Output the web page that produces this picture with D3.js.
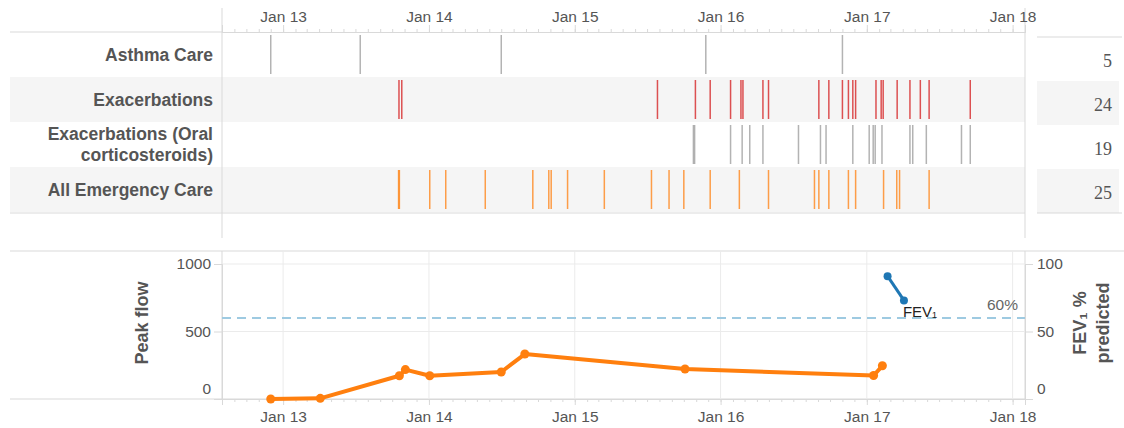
<!DOCTYPE html>
<html>
<head>
<meta charset="utf-8">
<title>patient timeline</title>
<script src="https://cdnjs.cloudflare.com/ajax/libs/d3/7.8.5/d3.min.js"></script>
<style>
body{margin:0;background:#fff;}
text{font-family:"Liberation Sans",Arial,sans-serif;}
</style>
</head>
<body>
<script>
// event rows
var rowLabels=[["Asthma Care"],["Exacerbations"],["Exacerbations (Oral","corticosteroids)"],["All Emergency Care"]];
var rowColors=["#9a9a9a","#d62728","#9a9a9a","#ff7f0e"];

var asthmaCare=["2012-12-01","2013-07-13","2014-07-01","2015-11-25","2016-11-01"];
var exacerbations=["2013-10-18","2013-10-25","2015-07-27","2015-10-30","2015-12-06",
	"2016-01-26","2016-02-21","2016-02-26","2016-04-16","2016-04-30","2016-09-03","2016-09-28",
	"2016-11-01","2016-11-16","2016-11-27","2016-12-04",
	"2017-01-24","2017-02-06","2017-02-11","2017-03-18","2017-04-19","2017-05-15","2017-06-06","2017-09-17"];
var oralSteroids=["2015-10-25","2015-10-28","2016-01-26","2016-02-24","2016-03-14","2016-04-16",
	"2016-07-14","2016-09-07","2016-09-21","2016-11-27","2017-01-07","2017-01-17","2017-01-22",
	"2017-02-08","2017-04-19","2017-04-26","2017-05-30","2017-08-26","2017-09-17"];
var emergencyCare=["2013-10-17","2013-10-19","2014-01-03","2014-02-12","2014-05-22","2014-09-18",
	"2014-10-28","2014-11-03","2014-12-14","2015-03-16","2015-07-12","2015-08-25","2015-10-01",
	"2015-12-06","2016-02-17","2016-04-30","2016-08-23","2016-09-03","2016-09-28","2016-11-16",
	"2016-12-04","2017-02-12","2017-03-17","2017-03-24","2017-06-06"];

// measurements
var peakDates=["2012-12-01","2013-04-04","2013-10-19","2013-11-03","2014-01-03","2014-07-01",
	"2014-08-29","2015-10-04","2017-01-18","2017-02-09"];
var peakValues=[0,5,172,218,172,200,333,222,174,246];
var fevDates=["2017-02-22","2017-04-04"];
var fevValues=[91,73];

var peakTicks=[0,500,1000],
	fevTicks=[0,50,100],
	peakThreshold=600,
	fevThreshold=60;

var W=1124,H=428,
	left=222,right=1025,
	rowTop=32,rowH=45,
	plotTop=251,plotBottom=399;
var parse=d3.timeParse("%Y-%m-%d");
var grey="#d9d9d9";

var svg=d3.select("body").append("svg")
	.attr("width",W).attr("height",H);

var x=d3.scaleTime()
	.domain([parse("2012-08-01"),parse("2018-02-01")])
	.range([left,right]);

var rows=d3.scaleBand().domain(d3.range(4)).range([rowTop,rowTop+4*rowH]);
var rows2=d3.scaleBand().domain(d3.range(4)).range([37,213]);
var events=[asthmaCare,exacerbations,oralSteroids,emergencyCare];

// row backgrounds
svg.selectAll(".band").data([1,3]).enter().append("rect")
	.attr("x",10).attr("width",right-10)
	.attr("y",function(d){return rows(d);}).attr("height",rows.bandwidth())
	.attr("fill","#f5f5f5");
svg.selectAll(".band2").data([1,3]).enter().append("rect")
	.attr("x",1037).attr("width",82)
	.attr("y",function(d){return rows2(d);}).attr("height",rows2.bandwidth())
	.attr("fill","#f5f5f5");

// frame lines
var frame=[
	[10,rowTop,left,rowTop],[left,8,left,238],[right,8,right,238],[10,213,right,213],
	[1037,37,1122,37],[1037,213,1122,213],
	[10,plotTop,W,plotTop],[left,plotTop,left,plotBottom],[right,plotTop,right,plotBottom],[10,plotBottom,right,plotBottom]
];
svg.selectAll(".frame").data(frame).enter().append("line")
	.attr("x1",function(d){return d[0];}).attr("y1",function(d){return d[1];})
	.attr("x2",function(d){return d[2];}).attr("y2",function(d){return d[3];})
	.attr("stroke",grey).attr("stroke-width",1);

// top axis
var top1=svg.append("g").attr("transform","translate(0,"+rowTop+")")
	.call(d3.axisTop(x).ticks(d3.timeMonth.every(1)).tickSize(3).tickFormat(""));
var top2=svg.append("g").attr("transform","translate(0,"+rowTop+")")
	.call(d3.axisTop(x).ticks(d3.timeYear.every(1)).tickSize(7).tickPadding(3).tickFormat(d3.timeFormat("%b %y")));
[top1,top2].forEach(function(g){
	g.select(".domain").attr("stroke",grey);
	g.selectAll(".tick line").attr("stroke",grey);
	g.selectAll("text").attr("fill","#555").style("font-size","15.5px");
});

// row labels
rowLabels.forEach(function(lines,i){
	var t=svg.append("text")
		.attr("x",213)
		.attr("y",rows(i)+rowH/2-(lines.length-1)*10.5)
		.attr("text-anchor","end").attr("dy","0.35em")
		.attr("fill","#555").style("font-size","17.5px").style("font-weight","bold");
	lines.forEach(function(s,j){
		t.append("tspan").attr("x",213).attr("dy",j==0?"0.35em":"21px").text(s);
	});
});

// event ticks
events.forEach(function(list,i){
	svg.append("g").selectAll("line").data(list).enter().append("line")
		.attr("x1",function(d){return x(parse(d));})
		.attr("x2",function(d){return x(parse(d));})
		.attr("y1",rows(i)+3).attr("y2",rows(i)+rowH-3)
		.attr("stroke",rowColors[i]).attr("stroke-width",1.5)
		.attr("stroke-opacity",i==1?0.8:0.75);
	svg.append("text")
		.attr("x",1112).attr("y",rows2(i)+rows2.bandwidth()/2+8)
		.attr("text-anchor","end").attr("fill","#555")
		.style("font-family","'Liberation Serif','DejaVu Serif',serif").style("font-size","18px")
		.text(list.length);
});

// bottom chart
var yL=d3.scaleLinear().domain([0,1000]).range([plotBottom,264]);
var yR=d3.scaleLinear().domain([0,100]).range([plotBottom,264]);

svg.append("g").selectAll("line").data(x.ticks(d3.timeYear.every(1))).enter().append("line")
	.attr("x1",function(d){return x(d);}).attr("x2",function(d){return x(d);})
	.attr("y1",plotTop).attr("y2",plotBottom)
	.attr("stroke","#ebebeb");
svg.append("g").selectAll("line").data(peakTicks.slice(1)).enter().append("line")
	.attr("x1",left).attr("x2",right)
	.attr("y1",function(d){return yL(d);}).attr("y2",function(d){return yL(d);})
	.attr("stroke","#ebebeb");

var bot1=svg.append("g").attr("transform","translate(0,"+plotBottom+")")
	.call(d3.axisBottom(x).ticks(d3.timeMonth.every(1)).tickSize(3).tickFormat(""));
var bot2=svg.append("g").attr("transform","translate(0,"+plotBottom+")")
	.call(d3.axisBottom(x).ticks(d3.timeYear.every(1)).tickSize(6).tickPadding(6).tickFormat(d3.timeFormat("%b %y")));
var axL=svg.append("g").attr("transform","translate("+left+",0)")
	.call(d3.axisLeft(yL).tickValues(peakTicks).tickFormat(d3.format("d")).tickSize(8).tickPadding(3));
var axR=svg.append("g").attr("transform","translate("+right+",0)")
	.call(d3.axisRight(yR).tickValues(fevTicks).tickFormat(d3.format("d")).tickSize(8).tickPadding(4));
[bot1,bot2,axL,axR].forEach(function(g){
	g.select(".domain").attr("stroke",grey);
	g.selectAll(".tick line").attr("stroke",grey);
	g.selectAll("text").attr("fill","#555").style("font-size","15.5px");
});
axL.selectAll(".tick text").filter(function(d){return d==0;}).attr("dy","-0.38em");
axR.selectAll(".tick text").filter(function(d){return d==0;}).attr("dy","-0.38em");

// threshold
svg.append("line")
	.attr("x1",left).attr("x2",right)
	.attr("y1",yL(peakThreshold)).attr("y2",yL(peakThreshold))
	.attr("stroke","#9ecae1").attr("stroke-width",2).attr("stroke-dasharray","9,6");
svg.append("text")
	.attr("x",1018).attr("y",yR(fevThreshold)-8)
	.attr("text-anchor","end").attr("fill","#666").style("font-size","15.5px")
	.text(fevThreshold+"%");

// peak flow line
var peak=peakDates.map(function(d,i){return {date:parse(d),v:peakValues[i]};});
svg.append("path").datum(peak)
	.attr("fill","none").attr("stroke","#ff7f0e").attr("stroke-width",4).attr("stroke-linejoin","round")
	.attr("d",d3.line().x(function(d){return x(d.date);}).y(function(d){return yL(d.v);}));
svg.append("g").selectAll("circle").data(peak).enter().append("circle")
	.attr("cx",function(d){return x(d.date);}).attr("cy",function(d){return yL(d.v);})
	.attr("r",4.5).attr("fill","#ff7f0e");

// FEV1 line
var fev=fevDates.map(function(d,i){return {date:parse(d),v:fevValues[i]};});
svg.append("path").datum(fev)
	.attr("fill","none").attr("stroke","#1f77b4").attr("stroke-width",3)
	.attr("d",d3.line().x(function(d){return x(d.date);}).y(function(d){return yR(d.v);}));
svg.append("g").selectAll("circle").data(fev).enter().append("circle")
	.attr("cx",function(d){return x(d.date);}).attr("cy",function(d){return yR(d.v);})
	.attr("r",4).attr("fill","#1f77b4");
var lastFev=fev[fev.length-1];
svg.append("text")
	.attr("x",x(lastFev.date)-1).attr("y",yR(lastFev.v)+17)
	.attr("fill","#222").style("font-size","15px")
	.text("FEV\u2081");

// axis titles
svg.append("text")
	.attr("transform","translate(148,"+323+") rotate(-90)")
	.attr("text-anchor","middle").attr("fill","#555")
	.style("font-size","18px").style("font-weight","bold")
	.text("Peak flow");
var rt=svg.append("text")
	.attr("transform","translate(1086,"+323+") rotate(-90)")
	.attr("text-anchor","middle").attr("fill","#555")
	.style("font-size","18px").style("font-weight","bold");
rt.append("tspan").attr("x",0).attr("dy","0").text("FEV\u2081 %");
rt.append("tspan").attr("x",0).attr("dy","23px").text("predicted");
</script>
</body>
</html>
